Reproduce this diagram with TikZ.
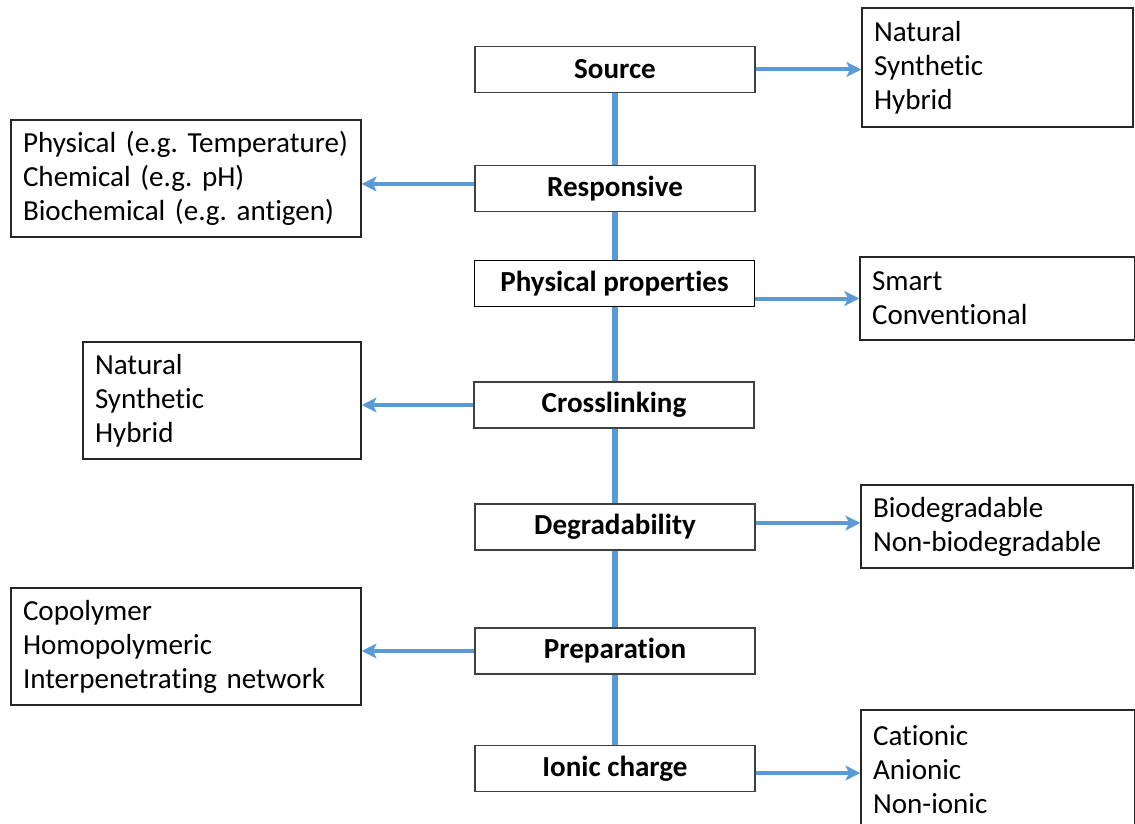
\documentclass[tikz,border=0pt]{standalone}
\usepackage{fontspec}
\setmainfont{Carlito}[Ligatures=NoCommon]
\usetikzlibrary{arrows.meta}
\definecolor{lineblue}{RGB}{91,155,213}
\definecolor{boxline}{RGB}{64,64,64}
\frenchspacing
\begin{document}
\begin{tikzpicture}[x=0.75pt,y=-0.75pt,
  mainbox/.style={draw=boxline,line width=1.1pt,fill=white,minimum width=210pt,minimum height=34.5pt,inner sep=0pt,font=\fontsize{21.8}{25}\selectfont\bfseries},
  sidebox/.style={draw=black!85,line width=1.1pt,fill=white,inner xsep=9pt,inner ysep=0pt,align=left,font=\fontsize{21.8}{25.5}\selectfont},
  trunk/.style={draw=lineblue,line width=3.8pt},
  branch/.style={draw=lineblue,line width=3pt,-{Stealth[length=11pt,width=11pt,inset=2.5pt]}}
]
\useasboundingbox (0,0) rectangle (1135,824);
\fill[white] (0,0) rectangle (1135,824);

% central column
\node[mainbox] (src)  at (615,69.5)  {Source};
\node[mainbox] (resp) at (615,188.5) {Responsive};
\node[mainbox,draw=black,line width=1.3pt] (phys) at (614.5,283.5) {Physical properties};
\node[mainbox] (cross) at (614,405)   {Crosslinking};
\node[mainbox] (deg)  at (615,527)   {Degradability};
\node[mainbox] (prep) at (615,651)   {Preparation};
\node[mainbox] (ion)  at (615,768.5) {Ionic charge};

% side boxes
\node[sidebox,text width=185.25pt,minimum height=89.25pt] (rsrc) at (997.5,67.5) {Natural\\Synthetic\\Hybrid};
\node[sidebox,text width=244.5pt,minimum height=87.75pt] (lresp) at (186,178.5) {Physical (e.g. Temperature)\\Chemical (e.g. pH)\\Biochemical (e.g. antigen)};
\node[sidebox,text width=188.25pt,minimum height=62.25pt] (rphys) at (997.5,298.5) {Smart\\Conventional};
\node[sidebox,text width=190.5pt,minimum height=87.75pt] (lcross) at (222,400.5) {Natural\\Synthetic\\Hybrid};
\node[sidebox,text width=186pt,minimum height=62.25pt] (rdeg) at (997,526.5) {Biodegradable\\Non-biodegradable};
\node[sidebox,text width=244.5pt,minimum height=87.75pt] (lprep) at (186,646.5) {Copolymer\\Homopolymeric\\Interpenetrating network};
\node[sidebox,text width=187.5pt,minimum height=90pt] (rion) at (998,770) {Cationic\\Anionic\\Non-ionic};

% trunk
\draw[trunk] (src.south) -- (resp.north);
\draw[trunk] (resp.south) -- (resp.south |- phys.north);
\draw[trunk] (resp.south |- phys.south) -- (resp.south |- cross.north);
\draw[trunk] (resp.south |- cross.south) -- (deg.north);
\draw[trunk] (deg.south) -- (prep.north);
\draw[trunk] (prep.south) -- (ion.north);

% branches
\draw[branch] (src.east) -- (src.east -| rsrc.west);
\draw[branch] ([yshift=3.4pt]resp.west) -- ([yshift=3.4pt]resp.west -| lresp.east);
\draw[branch] (phys.east |- rphys.west) -- (rphys.west);
\draw[branch] (cross.west) -- (cross.west -| lcross.east);
\draw[branch] ([yshift=3pt]deg.east) -- ([yshift=3pt]deg.east -| rdeg.west);
\draw[branch] (prep.west) -- (prep.west -| lprep.east);
\draw[branch] ([yshift=-3.4pt]ion.east) -- ([yshift=-3.4pt]ion.east -| rion.west);
\end{tikzpicture}
\end{document}
